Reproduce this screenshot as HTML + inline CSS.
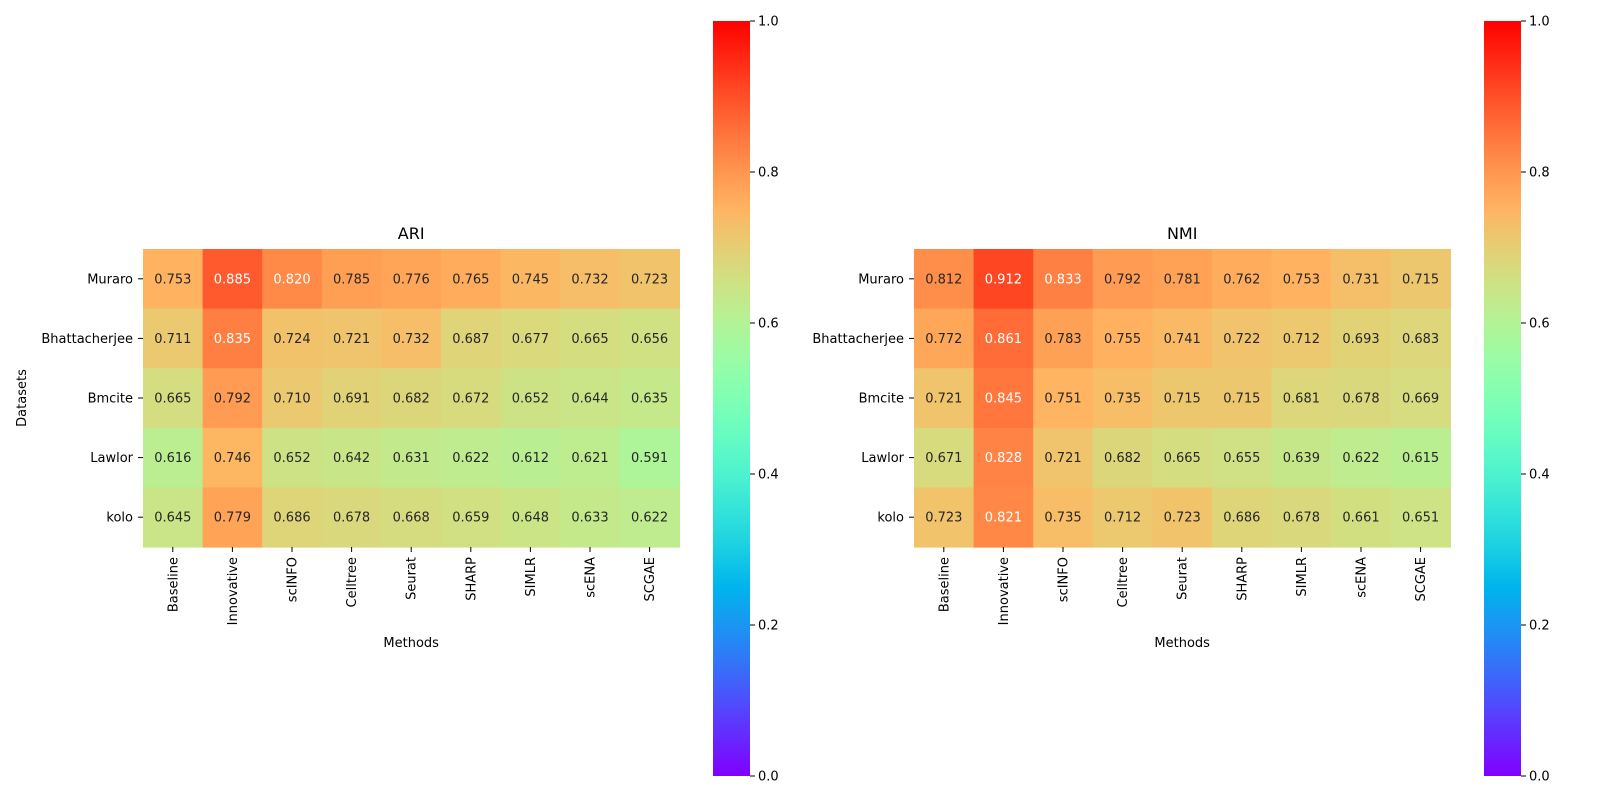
<!DOCTYPE html>
<html><head><meta charset="utf-8"><style>
html,body{margin:0;padding:0;background:#fff;}
svg{display:block;font-family:"DejaVu Sans","Liberation Sans",sans-serif;}
</style></head><body>
<svg id="chart" width="1600" height="800" viewBox="0 0 1600 800" xmlns="http://www.w3.org/2000/svg">
<defs>
<linearGradient id="rb" x1="0" y1="1" x2="0" y2="0"></linearGradient>
</defs>
</svg>
<script>
const methods = ["Baseline","Innovative","scINFO","Celltree","Seurat","SHARP","SIMLR","scENA","SCGAE"];
const datasets = ["Muraro","Bhattacherjee","Bmcite","Lawlor","kolo"];
const ariValues = [
 [0.753,0.885,0.820,0.785,0.776,0.765,0.745,0.732,0.723],
 [0.711,0.835,0.724,0.721,0.732,0.687,0.677,0.665,0.656],
 [0.665,0.792,0.710,0.691,0.682,0.672,0.652,0.644,0.635],
 [0.616,0.746,0.652,0.642,0.631,0.622,0.612,0.621,0.591],
 [0.645,0.779,0.686,0.678,0.668,0.659,0.648,0.633,0.622]
];
const nmiValues = [
 [0.812,0.912,0.833,0.792,0.781,0.762,0.753,0.731,0.715],
 [0.772,0.861,0.783,0.755,0.741,0.722,0.712,0.693,0.683],
 [0.721,0.845,0.751,0.735,0.715,0.715,0.681,0.678,0.669],
 [0.671,0.828,0.721,0.682,0.665,0.655,0.639,0.622,0.615],
 [0.723,0.821,0.735,0.712,0.723,0.686,0.678,0.661,0.651]
];
const cbarTicks = [0.0,0.2,0.4,0.6,0.8,1.0];

const NS="http://www.w3.org/2000/svg";
const svg=document.getElementById('chart');
function mk(tag,attrs,parent){const e=document.createElementNS(NS,tag);for(const k in attrs)e.setAttribute(k,attrs[k]);(parent||svg).appendChild(e);return e;}
function rainbow(x){x=Math.max(0,Math.min(1,x));
 const r=Math.min(1,Math.abs(2*x-0.5)),g=Math.sin(Math.PI*x),b=Math.cos(Math.PI*x/2);
 return [r,g,b];}
function hex(c){return 'rgb('+c.map(v=>Math.round(Math.max(0,v)*255)).join(',')+')';}
function lum(c){const f=v=>v<=0.03928?v/12.92:Math.pow((v+0.055)/1.055,2.4);return 0.2126*f(c[0])+0.7152*f(c[1])+0.0722*f(c[2]);}

const grad=document.getElementById('rb');
for(let i=0;i<=20;i++){mk('stop',{offset:(i/20),'stop-color':hex(rainbow(i/20))},grad);}

function panel(x0,title,values,cbx,showY){
 const y0=249,cs=59.6,W=cs*methods.length,H=cs*datasets.length;
 const xs=j=>x0+j*cs, ys=i=>y0+i*cs;
 const g=mk('g',{});
 
 
 values.forEach((row,i)=>row.forEach((v,j)=>{
  const c=rainbow(v);
  const r=mk('rect',{x:xs(j),y:ys(i),width:cs+0.6,height:cs+0.6,fill:hex(c)},g);
  
  
  const t=mk('text',{x:xs(j)+cs/2,y:ys(i)+cs/2+4.5,'text-anchor':'middle','font-size':13,fill:lum(c)<0.408?'#ffffff':'#262626'},g);
  t.textContent=v.toFixed(3);
  
  
 }));
 const tt=mk('text',{x:x0+W/2,y:y0-10,'text-anchor':'middle','font-size':16,fill:'#000'});
 tt.textContent=title;
 
 
 datasets.forEach((d,i)=>{
  const cy=ys(i)+cs/2;
  mk('line',{x1:x0-5,x2:x0,y1:cy,y2:cy,stroke:'#000','stroke-width':1});
  const t=mk('text',{x:x0-10,y:cy+4.5,'text-anchor':'end','font-size':13,fill:'#000'});
  t.textContent=d;
  
  
 });
 methods.forEach((m,j)=>{
  const cx=xs(j)+cs/2,by=y0+H;
  mk('line',{x1:cx,x2:cx,y1:by,y2:by+5,stroke:'#000','stroke-width':1});
  const t=mk('text',{x:0,y:0,'text-anchor':'end','font-size':13,fill:'#000',transform:'translate('+(cx+4.5)+','+(by+10)+') rotate(-90)'});
  t.textContent=m;
  
  
 });
 const xl=mk('text',{x:x0+W/2,y:647,'text-anchor':'middle','font-size':13,fill:'#000'});
 xl.textContent='Methods';
 
 
 if(showY){
  const yl=mk('text',{x:0,y:0,'text-anchor':'middle','font-size':13,fill:'#000',transform:'translate(26,'+(y0+H/2)+') rotate(-90)'});
  yl.textContent='Datasets';
  
  
 }
 const cTop=21,cBot=776,cw=37;
 const cy=v=>cBot-(cBot-cTop)*v;
 const cb=mk('rect',{x:cbx,y:cTop,width:cw,height:cBot-cTop,fill:'url(#rb)'});
 
 
 cbarTicks.forEach(v=>{
  mk('line',{x1:cbx+cw,x2:cbx+cw+5,y1:cy(v),y2:cy(v),stroke:'#000','stroke-width':1});
  const t=mk('text',{x:cbx+cw+8,y:cy(v)+4.5,'font-size':13,fill:'#000'});
  t.textContent=v.toFixed(1);
  
  
 });
}
panel(143,'ARI',ariValues,713,true);
panel(914,'NMI',nmiValues,1484,false);
</script>
</body></html>
